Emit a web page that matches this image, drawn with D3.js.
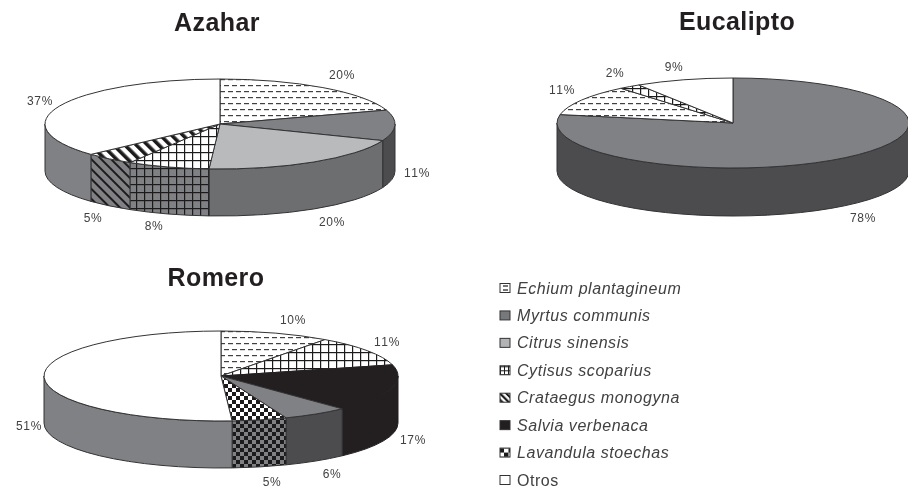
<!DOCTYPE html>
<html><head><meta charset="utf-8">
<style>html,body{margin:0;padding:0;background:#fff}svg{display:block;filter:blur(0.45px)}text{font-family:"Liberation Sans",Arial,sans-serif;font-kerning:none}</style>
<script src="https://cdn.jsdelivr.net/npm/d3@7"></script>
</head><body><div id="chart"></div>
<script>
// ---- data ----
const legendSpecies = ["Echium plantagineum","Myrtus communis","Citrus sinensis","Cytisus scoparius","Crataegus monogyna","Salvia verbenaca","Lavandula stoechas","Otros"];
const azaharSpecies = ["Echium plantagineum","Myrtus communis","Citrus sinensis","Cytisus scoparius","Crataegus monogyna","Otros"];
const azaharValues = [20,11,20,7.6,4.6,36.8];
const eucaliptoSpecies = ["Myrtus communis","Echium plantagineum","Cytisus scoparius","Otros"];
const eucaliptoValues = [78,11,2,9];
const romeroSpecies = ["Echium plantagineum","Cytisus scoparius","Salvia verbenaca","Myrtus communis","Lavandula stoechas","Otros"];
const romeroValues = [10,11,17,6,5,51];

// ---- layout ----
const W=908,H=488;
const panels=[
 {title:"Azahar",species:azaharSpecies,values:azaharValues,cx:220,cy:124,rx:175,ry:45,depth:47,tx:217,ty:31,
  labels:[[342,74],[417,172],[332,221],[154,225],[93,217],[40,100]]},
 {title:"Eucalipto",species:eucaliptoSpecies,values:eucaliptoValues,cx:733,cy:123,rx:176,ry:45,depth:48,tx:737,ty:30,
  labels:[[863,217],[562,89],[615,72],[674,66]]},
 {title:"Romero",species:romeroSpecies,values:romeroValues,cx:221,cy:376,rx:177,ry:45,depth:47,tx:216,ty:286,
  labels:[[293,319],[387,341],[413,439],[332,473],[272,481],[29,425]]}
];
const styleBy={
 "Echium plantagineum":{top:"url(#dashT)",side:"url(#dashT)",key:"url(#keyDash)"},
 "Myrtus communis":{top:"#808184",side:"#4c4c4e",key:"#77787b"},
 "Citrus sinensis":{top:"#b9babc",side:"#6d6e70",key:"#b2b3b5"},
 "Cytisus scoparius":{top:"url(#gridT)",side:"url(#gridS)",key:"url(#keyGrid)"},
 "Crataegus monogyna":{top:"url(#diagT)",side:"url(#diagS)",key:"url(#keyDiag)"},
 "Salvia verbenaca":{top:"#231f20",side:"#231f20",key:"#231f20",edge:"#231f20"},
 "Lavandula stoechas":{top:"url(#chkT)",side:"url(#chkS)",key:"url(#keyChk)"},
 "Otros":{top:"#ffffff",side:"#808184",key:"#ffffff"}
};
const INK="#333335",TXT="#414042";

const svg=d3.select("#chart").append("svg").attr("width",W).attr("height",H).attr("viewBox",[0,0,W,H]);
const defs=svg.append("defs");
function pat(id,w,h,bg,draw){
  const p=defs.append("pattern").attr("id",id).attr("patternUnits","userSpaceOnUse").attr("width",w).attr("height",h);
  p.append("rect").attr("width",w).attr("height",h).attr("fill",bg);
  draw(p);
}
const ink="#1c1a1b",sideGrey="#808184",dashInk="#414042";
pat("dashT",8,12,"#fff",p=>{
  p.append("rect").attr("x",0).attr("y",1).attr("width",5).attr("height",1.2).attr("fill",dashInk);
  p.append("rect").attr("x",4).attr("y",7).attr("width",4).attr("height",1.2).attr("fill",dashInk);
  p.append("rect").attr("x",0).attr("y",7).attr("width",1).attr("height",1.2).attr("fill",dashInk);
});
function grid(id,bg,s,lw){pat(id,s,s,bg,p=>{
  p.append("rect").attr("x",0).attr("y",0).attr("width",s).attr("height",lw).attr("fill",ink);
  p.append("rect").attr("x",0).attr("y",0).attr("width",lw).attr("height",s).attr("fill",ink);
});}
grid("gridT","#fff",8,1.2);grid("gridS",sideGrey,8,1.2);
function diag(id,bg,s,lw){
  const p=defs.append("pattern").attr("id",id).attr("patternUnits","userSpaceOnUse").attr("width",s).attr("height",s).attr("patternTransform","rotate(-45)");
  p.append("rect").attr("width",s).attr("height",s).attr("fill",bg);
  p.append("rect").attr("width",lw).attr("height",s).attr("fill",ink);
}
diag("diagT","#fff",8,3.6);diag("diagS",sideGrey,7,2);
function chk(id,bg,s){pat(id,s*2,s*2,bg,p=>{
  p.append("rect").attr("width",s).attr("height",s).attr("fill",ink);
  p.append("rect").attr("x",s).attr("y",s).attr("width",s).attr("height",s).attr("fill",ink);
});}
chk("chkT","#fff",4);chk("chkS",sideGrey,4);
pat("keyDash",10,4,"#fff",p=>p.append("rect").attr("x",3).attr("y",1.4).attr("width",5).attr("height",1.2).attr("fill",ink));
grid("keyGrid","#fff",4,1);
diag("keyDiag","#fff",4.5,2.2);
chk("keyChk","#fff",4.5);

const pie=d3.pie().sort(null).startAngle(0).endAngle(2*Math.PI);
panels.forEach(P=>{
  const g=svg.append("g");
  const arcs=pie(P.values);
  const pt=a=>[P.cx+P.rx*Math.sin(a),P.cy-P.ry*Math.cos(a)];
  const R=`${P.rx} ${P.ry}`;
  const topPath=d=>{
    const a=pt(d.startAngle),b=pt(d.endAngle),large=d.endAngle-d.startAngle>Math.PI?1:0;
    return `M${P.cx},${P.cy}L${a}A${R} 0 ${large} 1 ${b}Z`;
  };
  const lo=Math.PI/2,hi=3*Math.PI/2;
  const front=arcs.filter(d=>d.endAngle>lo&&d.startAngle<hi);
  const sidePath=d=>{
    const s=Math.max(d.startAngle,lo),e=Math.min(d.endAngle,hi);
    const a=pt(s),b=pt(e);
    return `M${a}A${R} 0 0 1 ${b}L${b[0]},${b[1]+P.depth}A${R} 0 0 0 ${a[0]},${a[1]+P.depth}Z`;
  };
  const name=d=>P.species[d.index];
  const edge=d=>styleBy[name(d)].edge||INK;
  g.selectAll("path.side").data(front).join("path").attr("class","side")
    .attr("d",sidePath).attr("fill",d=>styleBy[name(d)].side)
    .attr("stroke",edge).attr("stroke-width",1).attr("stroke-linejoin","round");
  g.selectAll("path.top").data(arcs).join("path").attr("class","top")
    .attr("d",topPath).attr("fill",d=>styleBy[name(d)].top)
    .attr("stroke",edge).attr("stroke-width",1).attr("stroke-linejoin","round");
  g.selectAll("text.lab").data(arcs).join("text").attr("class","lab")
    .attr("x",d=>P.labels[d.index][0]).attr("y",d=>P.labels[d.index][1]+4.5)
    .attr("text-anchor","middle").attr("font-size",12).attr("letter-spacing",0.6).attr("fill",TXT)
    .text(d=>Math.round(d.value)+"%");
  svg.append("text").attr("x",P.tx).attr("y",P.ty).attr("text-anchor","middle")
    .attr("font-size",25).attr("font-weight","bold").attr("fill","#231f20").attr("letter-spacing",0.4).text(P.title);
});

// legend
const rowY=d3.scalePoint().domain(legendSpecies).range([288,480]);
const lg=svg.append("g").selectAll("g").data(legendSpecies).join("g")
  .attr("transform",d=>`translate(0,${rowY(d)})`);
lg.append("rect").attr("x",500).attr("y",-4.5).attr("width",10).attr("height",9)
  .attr("fill",d=>styleBy[d].key).attr("stroke",INK).attr("stroke-width",1);
lg.append("text").attr("x",517).attr("y",5.5).attr("font-size",16).attr("letter-spacing",0.55).attr("fill",TXT)
  .attr("font-style",d=>d==="Otros"?"normal":"italic").text(d=>d);
</script></body></html>
